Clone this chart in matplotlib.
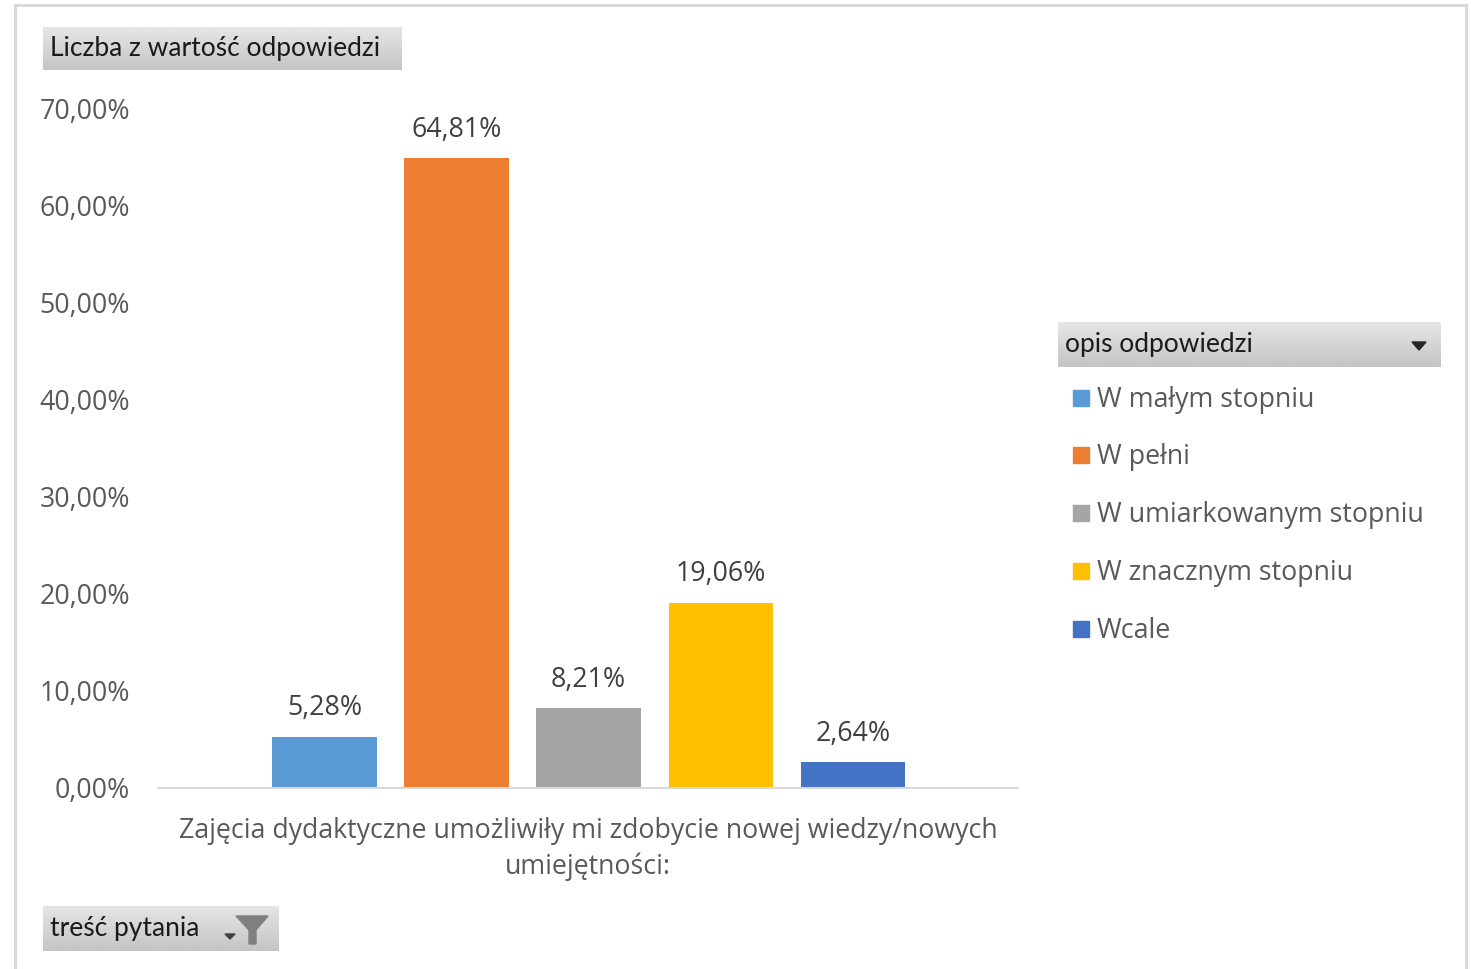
import numpy as np
import matplotlib
matplotlib.use("Agg")
import matplotlib.pyplot as plt
from matplotlib.patches import Rectangle, Polygon
from matplotlib.lines import Line2D

# ---- data ----
categories = ["W małym stopniu", "W pełni", "W umiarkowanym stopniu", "W znacznym stopniu", "Wcale"]
values = [5.28, 64.81, 8.21, 19.06, 2.64]
colors = ["#5B9BD5", "#ED7D31", "#A5A5A5", "#FFC000", "#4472C4"]
yticks = [0, 10, 20, 30, 40, 50, 60, 70]
ytick_labels = ["0,00%", "10,00%", "20,00%", "30,00%", "40,00%", "50,00%", "60,00%", "70,00%"]
value_labels = ["5,28%", "64,81%", "8,21%", "19,06%", "2,64%"]
category_label = "Zajęcia dydaktyczne umożliwiły mi zdobycie nowej wiedzy/nowych\numiejętności:"
title_button = "Liczba z wartość odpowiedzi"
legend_button = "opis odpowiedzi"
filter_button = "treść pytania"

W, H = 1471, 969
FS = 19.3
plt.rcParams['font.family'] = ['Open Sans', 'DejaVu Sans']
fig = plt.figure(figsize=(W / 100, H / 100), dpi=100)
fig.patch.set_facecolor("white")

def fx(x):
    return x / W

def fy(y):
    return 1 - y / H

# outer frame
fig.add_artist(Line2D([fx(15), fx(15)], [fy(5), 0], color="#D9D9D9", lw=2.2))
fig.add_artist(Line2D([fx(1466), fx(1466)], [fy(5), 0], color="#D9D9D9", lw=2.2))
fig.add_artist(Line2D([fx(15), fx(1466)], [fy(5), fy(5)], color="#D9D9D9", lw=2.2))

# main axes
left, right, top, bottom = 158, 1018, 108, 788
ax = fig.add_axes([fx(left), fy(bottom), fx(right - left), (bottom - top) / H])
x = np.arange(len(values))
ax.bar(x, values, width=0.79, color=colors, zorder=2)
ax.set_xlim(-1.26, 5.25)
ax.set_ylim(0, 70)
ax.set_yticks(yticks)
ax.set_yticklabels(ytick_labels, fontsize=FS, color="#595959")
ax.set_xticks([])
for s in ["top", "right", "left"]:
    ax.spines[s].set_visible(False)
ax.spines["bottom"].set_color("#D9D9D9")
ax.spines["bottom"].set_linewidth(1.5)
ax.tick_params(axis="y", length=0, pad=20)
for xi, v, lab in zip(x, values, value_labels):
    ax.annotate(lab, (xi, v), xytext=(0, 20.6), textcoords="offset points",
                ha="center", va="center", fontsize=FS, color="#404040")

# category label
fig.text(fx(588), fy(849), category_label, ha="center", va="center",
         fontsize=FS, color="#595959", linespacing=1.36)

# gradient buttons
def button(x0, y0, x1, y1, text, fs=19):
    bax = fig.add_axes([fx(x0), fy(y1), fx(x1 - x0), (y1 - y0) / H])
    grad = np.linspace(0.90, 0.77, 50).reshape(-1, 1)
    bax.imshow(grad, aspect="auto", cmap="gray", vmin=0, vmax=1,
               extent=[0, 1, 0, 1], origin="upper")
    bax.set_axis_off()
    bax.text(7 / (x1 - x0), 0.5, text, transform=bax.transAxes,
             ha="left", va="center", fontsize=fs, color="#1a1a1a",
             family=["Lato", "DejaVu Sans"])
    return bax

button(43, 27, 402, 70, title_button, fs=19)
button(1058, 322, 1441, 367, legend_button, fs=19)
# dropdown triangle
fig.add_artist(Polygon([[fx(1412), fy(342)], [fx(1426), fy(342)], [fx(1419), fy(350)]],
                       closed=True, color="#262626"))
button(43, 906, 279, 951, filter_button, fs=19)
# filter icon
fig.add_artist(Polygon([[fx(236), fy(916)], [fx(268), fy(916)], [fx(256), fy(930)],
                        [fx(256), fy(944)], [fx(249), fy(944)], [fx(249), fy(930)]],
                       closed=True, color="#7F7F7F"))
fig.add_artist(Polygon([[fx(225), fy(934)], [fx(235), fy(934)], [fx(230), fy(939)]],
                       closed=True, color="#404040"))

# legend entries
ys = [398, 455, 513, 571, 629]
for yy, c, lab in zip(ys, colors, categories):
    fig.add_artist(Rectangle((fx(1073), fy(yy + 8)), fx(16), 16 / H, color=c))
    fig.text(fx(1097), fy(yy + 2), lab, ha="left", va="center", fontsize=FS, color="#595959")

fig.savefig("out.png", dpi=100)
